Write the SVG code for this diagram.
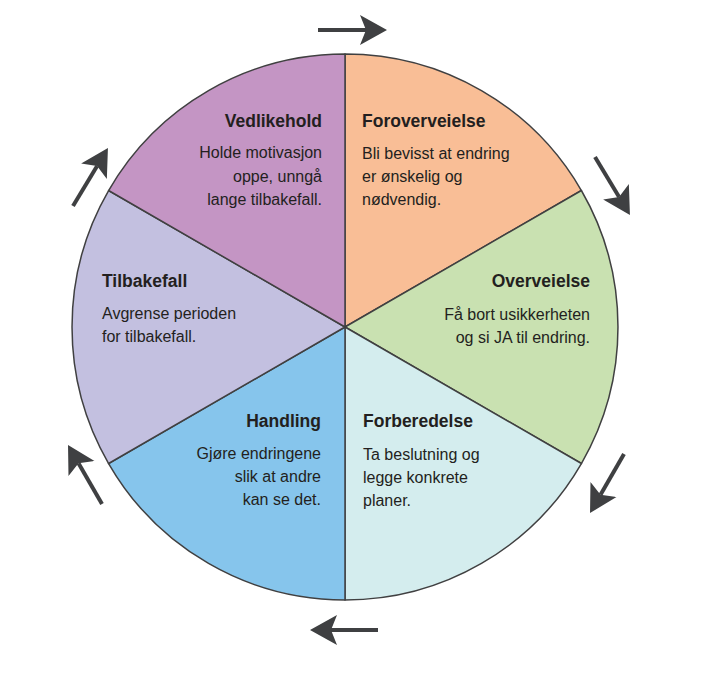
<svg xmlns="http://www.w3.org/2000/svg" width="711" height="676" viewBox="0 0 711 676">
<defs>
<style>
.sec{stroke:#404041;stroke-width:1.5;stroke-linejoin:round}
.t{font-family:"Liberation Sans",Arial,sans-serif;font-weight:bold;font-size:17.5px;fill:#231f20}
.b{font-family:"Liberation Sans",Arial,sans-serif;font-size:16px;fill:#231f20}
.r{text-anchor:end}
.arr{stroke:#3f4042;stroke-width:4;fill:none;marker-end:url(#ah)}
</style>
<marker id="ah" viewBox="0 -16 28 32" refX="6" refY="0" markerWidth="28" markerHeight="32" markerUnits="userSpaceOnUse" orient="auto">
<path d="M0,-15 L27,0 L0,15 L6,0 Z" fill="#3f4042"/>
</marker>
</defs>
<rect width="711" height="676" fill="#ffffff"/>
<g id="foroverveielse">
<path class="sec" fill="#f9be96" d="M345,327 L345,54 A273,273 0 0 1 581.4,190.5 Z"/>
<text class="t" x="362" y="127">Foroverveielse</text>
<text class="b" x="362" y="159">Bli bevisst at endring</text>
<text class="b" x="362" y="182">er ønskelig og</text>
<text class="b" x="362" y="205">nødvendig.</text>
</g>
<g id="overveielse">
<path class="sec" fill="#c9e1b1" d="M345,327 L581.4,190.5 A273,273 0 0 1 581.4,463.5 Z"/>
<text class="t r" x="590" y="287">Overveielse</text>
<text class="b r" x="590" y="320">Få bort usikkerheten</text>
<text class="b r" x="590" y="343">og si JA til endring.</text>
</g>
<g id="forberedelse">
<path class="sec" fill="#d4edee" d="M345,327 L581.4,463.5 A273,273 0 0 1 345,600 Z"/>
<text class="t" x="363" y="427">Forberedelse</text>
<text class="b" x="363" y="460">Ta beslutning og</text>
<text class="b" x="363" y="483">legge konkrete</text>
<text class="b" x="363" y="506">planer.</text>
</g>
<g id="handling">
<path class="sec" fill="#86c5ec" d="M345,327 L345,600 A273,273 0 0 1 108.6,463.5 Z"/>
<text class="t r" x="321" y="427">Handling</text>
<text class="b r" x="321" y="459">Gjøre endringene</text>
<text class="b r" x="321" y="482">slik at andre</text>
<text class="b r" x="321" y="505">kan se det.</text>
</g>
<g id="tilbakefall">
<path class="sec" fill="#c3c0e0" d="M345,327 L108.6,463.5 A273,273 0 0 1 108.6,190.5 Z"/>
<text class="t" x="102" y="287">Tilbakefall</text>
<text class="b" x="102" y="319">Avgrense perioden</text>
<text class="b" x="102" y="342">for tilbakefall.</text>
</g>
<g id="vedlikehold">
<path class="sec" fill="#c495c4" d="M345,327 L108.6,190.5 A273,273 0 0 1 345,54 Z"/>
<text class="t r" x="322" y="127">Vedlikehold</text>
<text class="b r" x="322" y="158">Holde motivasjon</text>
<text class="b r" x="322" y="182">oppe, unngå</text>
<text class="b r" x="322" y="205">lange tilbakefall.</text>
</g>
<g id="connectors">
<line class="arr" x1="318" y1="30" x2="366" y2="30"/>
<line class="arr" x1="595" y1="157" x2="619.1" y2="197"/>
<line class="arr" x1="624" y1="454" x2="600.5" y2="494.8"/>
<line class="arr" x1="378" y1="630" x2="331" y2="630"/>
<line class="arr" x1="102" y1="504" x2="78.5" y2="463.2"/>
<line class="arr" x1="73" y1="206" x2="97.1" y2="166"/>
</g>
</svg>
